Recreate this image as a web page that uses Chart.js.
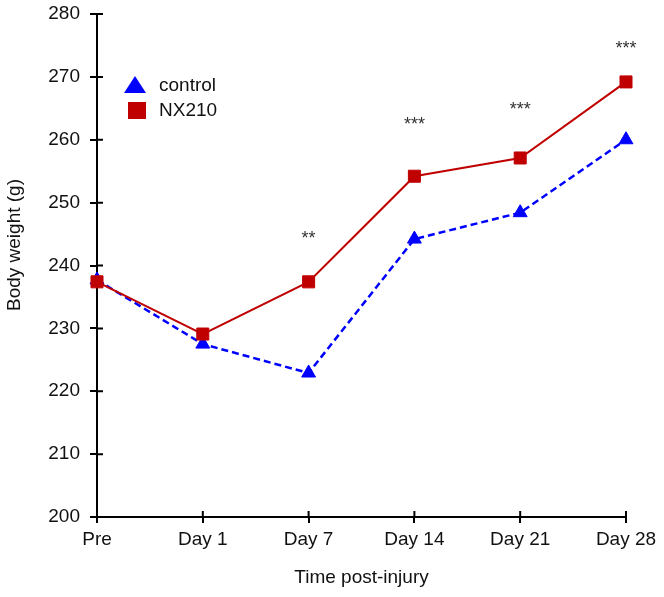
<!DOCTYPE html>
<html>
<head>
<meta charset="utf-8">
<script src="https://cdn.jsdelivr.net/npm/chart.js@4/dist/chart.umd.min.js"></script>
<style>
  html, body { margin: 0; padding: 0; background: #fff; }
  #wrap { width: 664px; height: 597px; }
</style>
</head>
<body>
<div id="wrap"><canvas id="myChart" width="664" height="597"></canvas></div>
<script>
const timepoints = ['Pre', 'Day 1', 'Day 7', 'Day 14', 'Day 21', 'Day 28']
const controlWeights = [237.7, 227.5, 222.9, 244.2, 248.4, 260.0]
const nx210Weights = [237.4, 229.1, 237.4, 254.2, 257.1, 269.2]
const sigLabels = ['', '', '**', '***', '***', '***']
const sigHeights = [null, null, 244.9, 263.0, 265.4, 275.0]
const yTicks = [200, 210, 220, 230, 240, 250, 260, 270, 280]

const FONT = 'Liberation Sans, Arial, sans-serif'
const INK = '#111'

// draws the inner half of tick marks, star labels, y title and the legend
const extras = {
  id: 'extras',
  afterDraw(chart) {
    const { ctx, scales: { x, y } } = chart
    ctx.save()
    ctx.strokeStyle = '#000'
    ctx.lineWidth = 2
    ctx.beginPath()
    yTicks.forEach(v => {
      const py = y.getPixelForValue(v)
      ctx.moveTo(x.left, py)
      ctx.lineTo(x.left + 6, py)
    })
    timepoints.forEach((t, i) => {
      const px = x.getPixelForValue(i)
      ctx.moveTo(px, y.bottom)
      ctx.lineTo(px, y.bottom - 6)
    })
    ctx.stroke()

    ctx.fillStyle = '#333'
    ctx.font = '18px ' + FONT
    ctx.textAlign = 'center'
    ctx.textBaseline = 'middle'
    sigLabels.forEach((s, i) => {
      if (!s) return
      ctx.fillText(s, x.getPixelForValue(i), y.getPixelForValue(sigHeights[i]) + 4)
    })

    ctx.fillStyle = INK
    ctx.font = '19px ' + FONT
    ctx.save()
    ctx.translate(15, 245)
    ctx.rotate(-Math.PI / 2)
    ctx.fillText('Body weight (g)', 0, 0)
    ctx.restore()

    // legend
    const ds = chart.data.datasets
    ctx.textAlign = 'left'
    ctx.fillStyle = ds[0].backgroundColor
    ctx.beginPath()
    ctx.moveTo(135, 76)
    ctx.lineTo(146, 93)
    ctx.lineTo(124, 93)
    ctx.closePath()
    ctx.fill()
    ctx.fillStyle = ds[1].backgroundColor
    ctx.fillRect(128, 102, 18, 17)
    ctx.fillStyle = INK
    ctx.fillText(ds[0].label, 159, 86)
    ctx.fillText(ds[1].label, 159, 111)
    ctx.restore()
  }
}

const ctx = document.getElementById('myChart')

new Chart(ctx, {
  type: 'line',
  data: {
    labels: timepoints,
    datasets: [
      {
        label: 'control',
        data: controlWeights,
        borderColor: '#0000ff',
        backgroundColor: '#0000ff',
        borderWidth: 2.5,
        borderDash: [7, 4],
        pointStyle: 'triangle',
        pointRadius: 8,
        pointBorderWidth: 1,
        order: 1
      },
      {
        label: 'NX210',
        data: nx210Weights,
        borderColor: '#c00000',
        backgroundColor: '#c00000',
        borderWidth: 2,
        pointStyle: 'rect',
        pointRadius: 8.5,
        pointBorderWidth: 1,
        order: 0
      }
    ]
  },
  options: {
    responsive: false,
    animation: false,
    layout: { padding: { top: 14, right: 38, left: 0, bottom: 0 } },
    plugins: {
      legend: { display: false },
      tooltip: { enabled: false }
    },
    scales: {
      x: {
        offset: false,
        grid: { drawOnChartArea: false, drawTicks: true, tickLength: 6, color: '#000', lineWidth: 2 },
        border: { color: '#000', width: 2 },
        ticks: { color: INK, font: { family: FONT, size: 19 }, padding: 5, maxRotation: 0 },
        title: {
          display: true,
          text: 'Time post-injury',
          color: INK,
          font: { family: FONT, size: 19 },
          padding: { top: 4, bottom: 8 }
        },
        afterFit(scale) {
          scale.height = 80
          scale.paddingLeft = 0
          scale.paddingRight = 0
        }
      },
      y: {
        min: 200,
        max: 280,
        grid: { drawOnChartArea: false, drawTicks: true, tickLength: 7, color: '#000', lineWidth: 2 },
        border: { color: '#000', width: 2 },
        ticks: { stepSize: 10, color: INK, font: { family: FONT, size: 19 }, padding: 10 },
        afterFit(scale) {
          scale.width = 97
          scale.paddingTop = 0
          scale.paddingBottom = 0
        }
      }
    }
  },
  plugins: [extras]
})
</script>
</body>
</html>
